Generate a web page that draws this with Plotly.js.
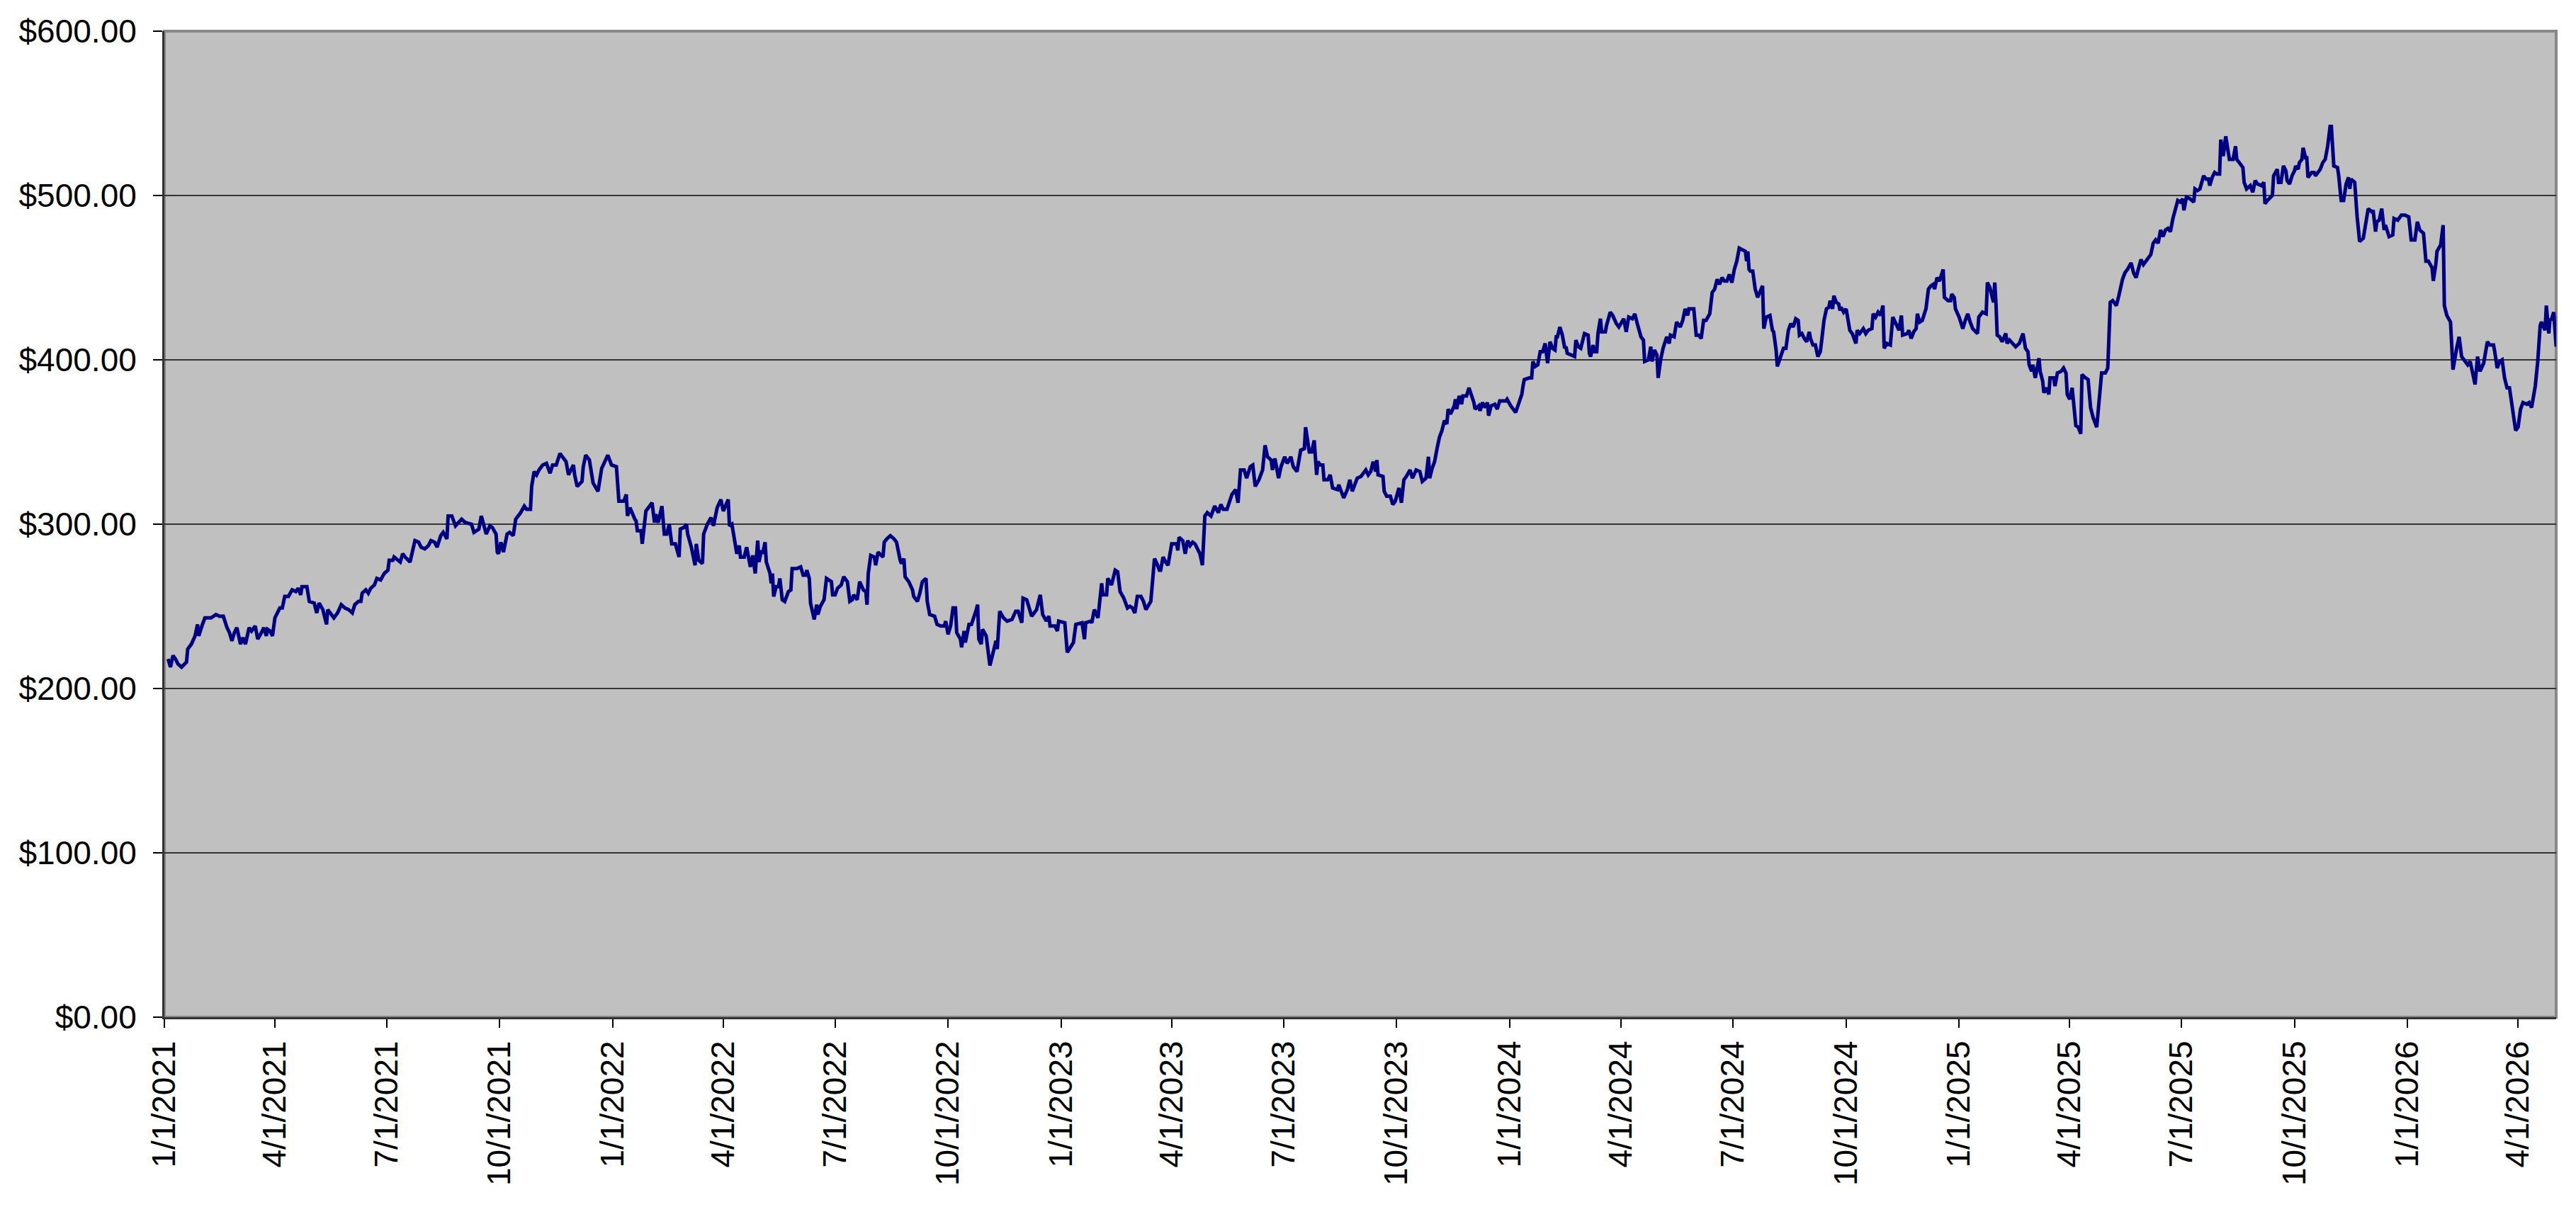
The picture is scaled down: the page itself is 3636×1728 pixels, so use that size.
<!DOCTYPE html>
<html>
<head>
<meta charset="utf-8">
<script src="https://cdn.plot.ly/plotly-3.0.1.min.js"></script>
<style>
  html, body { margin: 0; padding: 0; background: #fff; }
  #chart { width: 3636px; height: 1728px; }
</style>
</head>
<body>
<div id="chart"></div>
<script>
// closing prices, x = days since 1/1/2021
const day2021 = [
  3, 5, 7, 9, 11, 14, 18, 19, 22, 25,
  27, 28, 31, 33, 38, 42, 45, 48, 51, 53,
  55, 57, 59, 62, 64, 66, 69, 71, 74, 76,
  79, 81, 83, 84, 86, 88, 90, 94, 96, 98,
  101, 104, 107, 109, 111, 112, 116, 118, 122, 124,
  126, 129, 132, 133, 135, 138, 141, 144, 147, 150,
  153, 155, 158, 160, 161, 164, 166, 168, 171, 173,
  176, 179, 182, 183, 186, 187, 192, 194, 196, 200,
  204, 207, 209, 212, 215, 217, 220, 222, 225, 227,
  230, 231, 234, 237, 242, 245, 250, 252, 256, 258,
  262, 265, 267, 270, 271, 272, 274, 276, 279, 281,
  284, 286, 290, 293, 295, 298, 299, 301, 303, 305,
  308, 311, 314, 316, 319, 320, 322, 327, 329, 333,
  334, 336, 340, 341, 343, 346, 348, 349, 353, 356,
  361, 364
];
const price2021 = [
  218, 213, 220, 218, 215, 213, 216, 224, 227, 232,
  239, 232, 239, 243, 243, 245, 244, 244, 237, 234,
  229, 234, 237, 227, 231, 227, 237, 235, 238, 230,
  234, 237, 232, 236, 235, 232, 243, 249, 249, 256,
  256, 260, 259, 261, 257, 262, 262, 253, 252, 246,
  252, 248, 239, 248, 246, 243, 246, 251, 249, 248,
  246, 251, 253, 253, 258, 260, 258, 261, 263, 267,
  266, 270, 272, 278, 278, 280, 277, 282, 280, 277,
  290, 289, 286, 285, 287, 290, 289, 286, 293, 295,
  291, 305, 305, 299, 303, 301, 300, 295, 297, 305,
  294, 299, 298, 294, 283, 282, 289, 283, 294, 295,
  293, 303, 307, 311, 309, 309, 323, 332, 330, 333,
  336, 337, 331, 336, 336, 339, 343, 338, 330, 336,
  330, 323, 326, 335, 342, 339, 328, 325, 320, 334,
  342, 336
];

const day2022 = [
  368, 370, 374, 376, 377, 379, 383, 384, 385, 388,
  389, 391, 392, 395, 397, 399, 400, 402, 405, 407,
  409, 411, 413, 416, 419, 420, 423, 425, 426, 429,
  432, 433, 435, 438, 439, 442, 445, 447, 450, 453,
  455, 459, 460, 462, 466, 468, 469, 472, 474, 477,
  479, 481, 483, 484, 486, 487, 489, 490, 493, 494,
  495, 496, 498, 500, 501, 503, 505, 508, 510, 511,
  515, 518, 520, 522, 523, 525, 526, 529, 531, 532,
  534, 537, 539, 543, 544, 546, 548, 551, 553, 556,
  558, 560, 561, 564, 566, 569, 571, 572, 573, 575,
  578, 579, 581, 585, 586, 588, 591, 594, 596, 599,
  600, 602, 603, 606, 609, 610, 613, 615, 617, 620,
  621, 623, 627, 629, 632, 635, 636, 638, 640, 642,
  644, 645, 648, 649, 651, 652, 655, 657, 659, 661,
  662, 663, 665, 666, 669, 671, 672, 675, 677, 678,
  680, 683, 686, 690, 693, 695, 698, 699, 702, 706,
  710, 713, 715, 718, 720, 721, 725, 727, 728
];
const price2022 = [
  335, 314, 314, 318, 305, 310, 303, 302, 296, 296,
  288, 299, 308, 311, 313, 301, 306, 301, 311, 294,
  294, 300, 288, 288, 280, 297, 298, 300, 294, 286,
  275, 288, 278, 276, 294, 300, 304, 299, 310, 315,
  308, 315, 299, 300, 282, 287, 280, 280, 286, 274,
  281, 270, 290, 277, 284, 282, 289, 277, 270, 264,
  270, 256, 262, 262, 267, 254, 253, 259, 260, 273,
  273, 274, 269, 269, 272, 267, 252, 242, 251, 245,
  250, 254, 267, 265, 257, 257, 261, 263, 268, 265,
  253, 254, 257, 254, 265, 260, 259, 251, 270, 281,
  280, 275, 283, 280, 289, 291, 293, 291, 289, 278,
  276, 279, 268, 265, 260, 256, 253, 258, 265, 267,
  253, 245, 244, 239, 238, 238, 241, 233, 238, 249,
  249, 234, 230, 225, 235, 228, 239, 239, 243, 248,
  251, 230, 227, 236, 232, 222, 214, 223, 229, 224,
  247, 243, 241, 242, 247, 247, 240, 255, 254, 244,
  248, 257, 245, 241, 244, 238, 238, 235, 241
];

const day2023 = [
  733, 735, 740, 742, 747, 749, 750, 754, 755, 757,
  760, 763, 764, 767, 768, 771, 774, 776, 778, 781,
  784, 786, 788, 790, 792, 795, 797, 799, 803, 804,
  806, 808, 810, 811, 813, 815, 817, 820, 824, 825,
  826, 829, 831, 833, 835, 837, 839, 841, 843, 845,
  847, 849, 852, 855, 858, 860, 862, 865, 869, 872,
  874, 876, 879, 881, 884, 886, 888, 891, 894, 896,
  898, 901, 902, 904, 907, 909, 912, 914, 917, 919,
  922, 925, 928, 929, 932, 934, 936, 938, 939, 941,
  943, 944, 947, 949, 951, 955, 956, 960, 963, 965,
  967, 969, 971, 974, 978, 980, 982, 984, 986, 987,
  988, 992, 993, 995, 998, 1000, 1002, 1005, 1007, 1009,
  1011, 1014, 1016, 1019, 1022, 1024, 1027, 1029, 1030, 1032,
  1034, 1036, 1038, 1040, 1042, 1044, 1045, 1047, 1050, 1051,
  1052, 1054, 1056, 1057, 1060, 1062, 1064, 1066, 1067, 1070,
  1071, 1073, 1075, 1077, 1078, 1080, 1083, 1085, 1087, 1092,
  1093
];
const price2023 = [
  240, 222, 228, 239, 240, 230, 240, 241, 240, 248,
  243, 264, 257, 257, 267, 263, 272, 271, 259, 255,
  249, 250, 249, 246, 256, 256, 253, 248, 253, 264,
  279, 276, 272, 272, 280, 277, 275, 288, 288, 284,
  292, 290, 282, 290, 287, 289, 288, 285, 282, 275,
  305, 307, 305, 311, 307, 312, 309, 309, 318, 321,
  313, 333, 333, 328, 335, 336, 323, 327, 333, 348,
  341, 339, 333, 340, 328, 335, 341, 337, 341, 335,
  332, 345, 346, 359, 344, 344, 351, 330, 338, 336,
  336, 327, 327, 330, 322, 321, 324, 316, 321, 327,
  320, 324, 328, 329, 333, 330, 332, 338, 332, 339,
  330, 329, 320, 317, 317, 312, 314, 322, 313, 327,
  329, 333, 328, 333, 332, 326, 328, 341, 328, 334,
  338, 346, 353, 357, 363, 361, 370, 367, 372, 376,
  370, 378, 373, 378, 378, 383, 379, 374, 370, 372,
  369, 374, 371, 374, 366, 372, 373, 370, 375, 375,
  376
];

const day2024 = [
  1096, 1100, 1103, 1105, 1106, 1107, 1111, 1113, 1114, 1116,
  1118, 1120, 1122, 1124, 1126, 1128, 1130, 1132, 1133, 1134,
  1136, 1138, 1140, 1141, 1142, 1145, 1148, 1149, 1151, 1153,
  1156, 1159, 1160, 1161, 1163, 1164, 1166, 1167, 1169, 1170,
  1173, 1174, 1177, 1179, 1182, 1184, 1188, 1190, 1192, 1195,
  1197, 1199, 1200, 1202, 1204, 1205, 1208, 1210, 1211, 1213,
  1215, 1216, 1218, 1220, 1223, 1225, 1226, 1229, 1231, 1234,
  1236, 1238, 1240, 1241, 1245, 1247, 1249, 1251, 1253, 1255,
  1258, 1260, 1262, 1264, 1266, 1268, 1270, 1272, 1274, 1276,
  1278, 1280, 1282, 1285, 1287, 1288, 1289, 1290, 1291, 1293,
  1295, 1297, 1299, 1301, 1302, 1304, 1307, 1309, 1310, 1312,
  1313, 1314, 1316, 1318, 1320, 1322, 1324, 1326, 1328, 1330,
  1331, 1333, 1335, 1337, 1339, 1340, 1342, 1344, 1346, 1348,
  1349, 1351, 1353, 1355, 1356, 1358, 1359, 1361, 1363, 1364,
  1365, 1367, 1369, 1372, 1374, 1377, 1378, 1380, 1383, 1385,
  1387, 1390, 1391, 1393, 1395, 1397, 1399, 1400, 1402, 1405,
  1407, 1410, 1412, 1414, 1415, 1419, 1420, 1422, 1424, 1426,
  1427, 1429, 1431, 1434, 1436, 1438, 1440, 1441, 1443, 1445,
  1448, 1449, 1452, 1454, 1455, 1457, 1458
];
const price2024 = [
  372, 368, 375, 379, 384, 388, 389, 389, 399, 396,
  397, 405, 405, 410, 398, 411, 407, 406, 414, 414,
  420, 415, 407, 408, 404, 403, 402, 412, 408, 407,
  416, 415, 404, 402, 409, 405, 405, 416, 425, 417,
  417, 421, 429, 427, 422, 420, 425, 417, 426, 425,
  428, 422, 419, 414, 412, 399, 400, 408, 399, 406,
  403, 389, 400, 407, 414, 410, 415, 414, 423, 420,
  424, 431, 427, 431, 431, 415, 415, 413, 424, 424,
  428, 441, 443, 449, 446, 450, 448, 448, 452, 447,
  455, 460, 468, 467, 466, 460, 466, 455, 454, 454,
  443, 438, 441, 445, 419, 426, 427, 418, 417, 406,
  396, 398, 403, 407, 407, 418, 422, 420, 425, 424,
  415, 416, 413, 411, 417, 413, 409, 409, 402, 405,
  411, 424, 431, 432, 436, 431, 439, 435, 434, 430,
  432, 429, 431, 418, 416, 410, 418, 416, 419, 416,
  418, 419, 428, 426, 429, 427, 433, 407, 410, 409,
  426, 421, 418, 427, 415, 416, 418, 413, 417, 419,
  428, 423, 424, 431, 443, 445, 446, 443, 450, 448,
  455, 438, 436, 436, 440, 438, 431
];

const day2025 = [
  1461, 1464, 1466, 1468, 1470, 1472, 1476, 1477, 1480, 1483,
  1484, 1486, 1489, 1490, 1491, 1492, 1494, 1496, 1499, 1500,
  1502, 1505, 1507, 1510, 1512, 1513, 1515, 1517, 1518, 1520,
  1521, 1523, 1526, 1527, 1529, 1530, 1532, 1534, 1535, 1538,
  1539, 1541, 1544, 1546, 1548, 1549, 1551, 1553, 1556, 1558,
  1560, 1561, 1564, 1566, 1568, 1570, 1573, 1575, 1577, 1579,
  1580, 1582, 1584, 1586, 1589, 1591, 1594, 1596, 1598, 1601,
  1603, 1605, 1607, 1609, 1611, 1614, 1617, 1619, 1621, 1623,
  1625, 1627, 1629, 1631, 1633, 1635, 1637, 1639, 1641, 1643,
  1644, 1646, 1649, 1652, 1653, 1655, 1657, 1660, 1662, 1664,
  1665, 1667, 1669, 1671, 1673, 1674, 1676, 1677, 1678, 1681,
  1684, 1686, 1687, 1689, 1692, 1693, 1695, 1698, 1700, 1702,
  1704, 1707, 1709, 1710, 1712, 1716, 1717, 1720, 1721, 1723,
  1725, 1727, 1728, 1730, 1732, 1734, 1735, 1737, 1738, 1740,
  1741, 1743, 1744, 1745, 1748, 1750, 1751, 1755, 1757, 1759,
  1761, 1763, 1764, 1766, 1769, 1770, 1772, 1774, 1776, 1778,
  1779, 1780, 1783, 1785, 1787, 1790, 1792, 1794, 1797, 1798,
  1800, 1801, 1803, 1805, 1807, 1808, 1811, 1814, 1815, 1818,
  1821, 1824
];
const price2025 = [
  426, 419, 424, 428, 423, 419, 416, 426, 429, 428,
  447, 444, 435, 447, 434, 415, 414, 411, 416, 410,
  412, 410, 408, 410, 415, 416, 407, 405, 397, 393,
  397, 389, 401, 393, 387, 380, 383, 379, 389, 389,
  384, 392, 393, 395, 392, 379, 376, 383, 360, 359,
  355, 391, 389, 388, 371, 365, 359, 375, 392, 392,
  392, 395, 435, 436, 433, 439, 449, 453, 455, 459,
  453, 450, 456, 461, 458, 461, 464, 471, 473, 471,
  479, 475, 479, 480, 478, 486, 491, 497, 496, 498,
  491, 499, 498, 496, 504, 503, 504, 512, 510, 510,
  506, 511, 514, 513, 513, 534, 524, 532, 536, 522,
  522, 530, 522, 520, 517, 508, 504, 506, 502, 509,
  507, 506, 508, 495, 497, 500, 512, 516, 508, 508,
  518, 515, 509, 507, 512, 515, 518, 516, 520, 522,
  529, 523, 523, 511, 514, 514, 512, 516, 520, 522,
  530, 542, 542, 518, 517, 512, 497, 497, 507, 511,
  504, 510, 508, 487, 472, 474, 484, 492, 490, 491,
  478, 484, 485, 492, 479, 482, 475, 476, 486, 485,
  488, 488
];

const day2026 = [
  1827, 1829, 1832, 1834, 1836, 1839, 1841, 1843, 1846, 1847,
  1849, 1850, 1853, 1855, 1856, 1858, 1861, 1862, 1863, 1866,
  1868, 1870, 1872, 1875, 1877, 1878, 1881, 1883, 1885, 1888,
  1890, 1891, 1893, 1896, 1897, 1899, 1901, 1903, 1905, 1907,
  1909, 1911, 1912, 1914, 1916, 1918, 1920, 1923, 1925, 1927,
  1930, 1932, 1934, 1935, 1938, 1939, 1941, 1942, 1943, 1945,
  1947
];
const price2026 = [
  487, 473, 473, 484, 479, 477, 460, 460, 456, 448,
  458, 466, 470, 482, 433, 427, 423, 411, 394, 407,
  414, 402, 400, 397, 399, 395, 385, 402, 393, 398,
  405, 411, 409, 409, 405, 395, 399, 400, 389, 383,
  383, 372, 370, 357, 359, 370, 374, 373, 374, 371,
  384, 399, 421, 423, 418, 433, 416, 425, 424, 429,
  408
];

const START = [2021, 0, 1];
const END_DATE = '2026-05-02';

function toDate(d) {
    return new Date(Date.UTC(START[0], START[1], START[2] + d)).toISOString().slice(0, 10);
}

const days = [].concat(day2021, day2022, day2023, day2024, day2025, day2026);
const prices = [].concat(price2021, price2022, price2023, price2024, price2025, price2026);

const trace = {
    x: days.map(toDate),
    y: prices,
    type: 'scatter',
    mode: 'lines',
    line: { color: '#000080', width: 5 },
    hoverinfo: 'skip'
};

const font = { family: 'Liberation Sans, Arial, sans-serif', size: 46, color: '#000' };

const layout = {
    width: 3636,
    height: 1728,
    margin: { l: 232, r: 28, t: 44, b: 292, pad: 0 },
    paper_bgcolor: '#ffffff',
    plot_bgcolor: '#c0c0c0',
    font: font,
    showlegend: false,
    xaxis: {
        type: 'date',
        range: [toDate(0), END_DATE],
        tick0: toDate(0),
        dtick: 'M3',
        tickformat: '%-m/%-d/%Y',
        tickangle: -90,
        ticks: 'outside',
        ticklen: 12,
        tickwidth: 2,
        tickcolor: '#000',
        showgrid: false,
        zeroline: false,
        showline: true,
        linecolor: '#333',
        linewidth: 3,
        tickfont: font
    },
    yaxis: {
        range: [0, 600],
        dtick: 100,
        tickformat: '$.2f',
        ticks: 'outside',
        ticklen: 13,
        tickwidth: 2,
        tickcolor: '#000',
        ticklabelstandoff: 14,
        showgrid: true,
        gridcolor: '#333',
        gridwidth: 2,
        zeroline: false,
        showline: true,
        linecolor: '#333',
        linewidth: 3,
        tickfont: font
    },
    shapes: [{
        type: 'rect',
        xref: 'paper', yref: 'paper',
        x0: 0, x1: 1, y0: 0, y1: 1,
        line: { color: '#888', width: 4 },
        layer: 'below'
    }]
};

Plotly.newPlot('chart', [trace], layout, { staticPlot: true, displayModeBar: false });
</script>
</body>
</html>
